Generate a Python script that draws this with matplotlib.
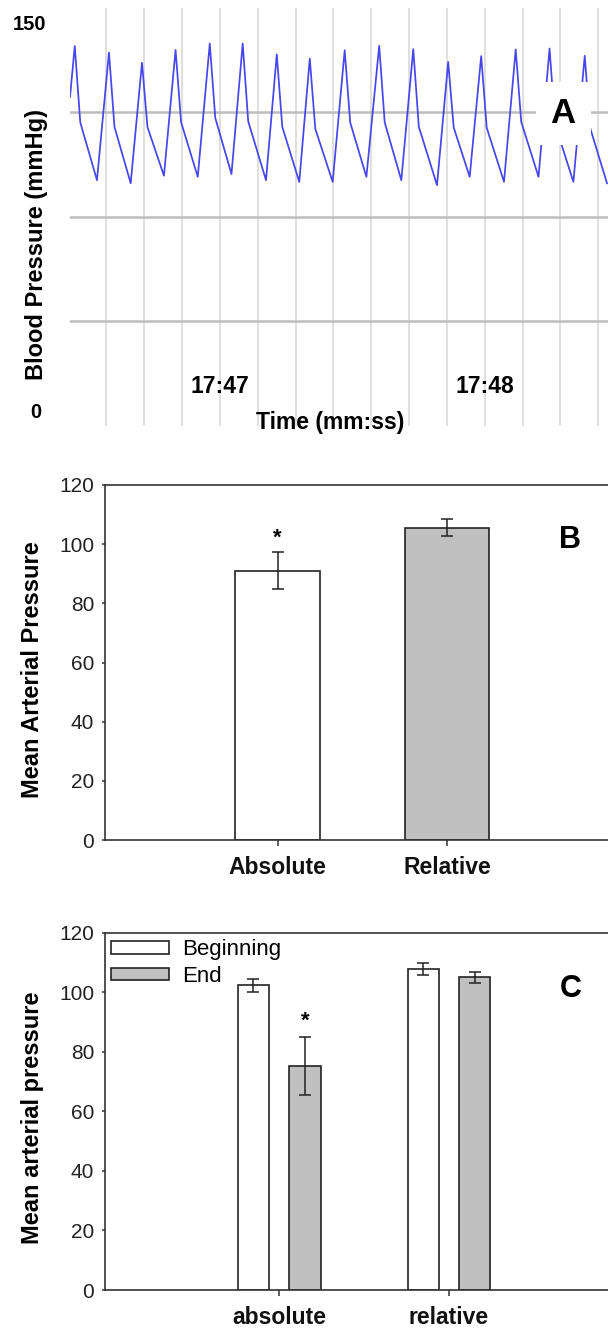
import numpy as np
import matplotlib.pyplot as plt

plt.rcParams['font.family'] = ['Liberation Sans', 'DejaVu Sans']

# ---- panel A: blood pressure trace (time in s from 17:47, pressure in mmHg)
trace_start = [-33.96, 117.9]
peak_t = [-32.88, -25.13, -17.65, -10.04, -2.29, 5.17, 12.89, 20.37,
          28.28, 36.10, 43.82, 51.73, 59.21, 67.03, 74.70, 82.67]
peak_v = [136.2, 133.9, 130.2, 134.8, 137.1, 137.1, 133.2, 131.7,
          134.7, 136.3, 135.1, 130.5, 132.6, 135.0, 135.3, 132.7]
notch_t = [-31.63, -23.88, -16.40, -8.79, -1.04, 6.42, 14.14, 21.62,
           29.53, 37.35, 45.07, 52.98, 60.46, 68.28, 75.95, 83.92]
notch_v = [108.8, 107.2, 107.1, 108.9, 110.4, 109.2, 107.2, 106.5,
           108.8, 108.8, 107.3, 107.0, 106.9, 109.0, 108.1, 106.7]
trough_t = [-27.85, -20.21, -12.67, -5.01, 2.63, 10.45, 17.99, 25.56,
            33.20, 41.11, 49.20, 56.60, 64.38, 72.20, 80.10, 87.72]
trough_v = [88.1, 87.0, 89.7, 89.3, 90.3, 88.1, 87.5, 87.5,
            89.3, 88.1, 86.3, 89.3, 87.5, 89.3, 87.5, 87.0]
time_labels = ['17:47', '17:48']
time_label_pos = [0, 60]

# ---- panel B: mean arterial pressure
cats_b = ['Absolute', 'Relative']
map_b = [91.0, 105.6]
err_b = [6.2, 3.0]

# ---- panel C: beginning vs end
cats_c = ['absolute', 'relative']
begin_c = [102.4, 107.7]
begin_err = [2.2, 2.0]
end_c = [75.2, 105.0]
end_err = [9.8, 1.8]

W, H = 608, 1332
fig = plt.figure(figsize=(W / 100, H / 100), dpi=100)


def px_axes(left, top, right, bottom):
    return fig.add_axes([left / W, 1 - bottom / H, (right - left) / W, (bottom - top) / H])


def px_text(x, y, s, **kw):
    fig.text(x / W, 1 - y / H, s, **kw)


# ================= A
axA = px_axes(70, 7.5, 620, 426)
t = np.column_stack([peak_t, notch_t, trough_t]).ravel()
v = np.column_stack([peak_v, notch_v, trough_v]).ravel()
t = np.concatenate([[trace_start[0]], t])
v = np.concatenate([[trace_start[1]], v])
axA.plot(t, v, color='#4646ee', lw=1.25, zorder=2)
axA.set_xlim(-33.96, 90.66)
axA.set_ylim(0, 150)

grid_t = np.arange(-3, 11) * 60 / 7
lbls = []
for g in grid_t:
    lab = ''
    for p, s in zip(time_label_pos, time_labels):
        if abs(g - p) < 1e-6:
            lab = s
    lbls.append(lab)
axA.set_xticks(grid_t, labels=lbls)
axA.set_yticks([37.5, 75, 112.5], labels=[])
axA.grid(axis='x', color='#dcdcdc', lw=1.3)
axA.grid(axis='y', color='#bdbdbd', lw=1.8)
axA.tick_params(axis='both', length=0)
axA.tick_params(axis='x', pad=-37, labelsize=16.5)
for lab in axA.get_xticklabels():
    lab.set_fontweight('bold')
for sp in axA.spines.values():
    sp.set_visible(False)
axA.text(77.75, 108.6, 'A', fontsize=25, fontweight='bold', ha='center', va='baseline',
         bbox=dict(boxstyle='square,pad=0.43', fc='white', ec='none'), zorder=5)

px_text(30, 25, '150', fontsize=14.5, fontweight='bold', ha='center', va='center')
px_text(36, 413, '0', fontsize=14.5, fontweight='bold', ha='center', va='center')
px_text(330, 411, 'Time (mm:ss)', fontsize=16.5, fontweight='bold', ha='center', va='top')
px_text(37, 245, 'Blood Pressure (mmHg)', fontsize=17, fontweight='bold',
        ha='center', va='center', rotation=90)

edge = '#222222'
grey = '#c0c0c0'


def style_bar_axes(ax):
    ax.set_ylim(0, 120)
    ax.set_yticks(np.arange(0, 121, 20))
    ax.spines['right'].set_visible(False)
    for sp in ['left', 'top', 'bottom']:
        ax.spines[sp].set_linewidth(1.2)
        ax.spines[sp].set_color('#333333')
    ax.tick_params(axis='y', direction='out', length=2.5, width=1.1, pad=5, labelsize=15,
                   colors='#333333', labelcolor='#222222')
    ax.tick_params(axis='x', direction='out', length=4.5, width=1.1, pad=7, labelsize=16.5,
                   colors='#333333', labelcolor='#111111')
    for lab in ax.get_xticklabels():
        lab.set_fontweight('bold')


# ================= B
axB = px_axes(104.7, 485, 104.7 + 511.9, 840)
xb = np.arange(len(cats_b))
axB.bar(xb, map_b, width=0.5, color=['white', grey], edgecolor=edge, linewidth=1.2,
        yerr=err_b, capsize=4.5, error_kw=dict(elinewidth=1.1, capthick=1.1, ecolor=edge))
axB.set_xlim(-1.02, 2.0)
axB.set_xticks(xb, labels=cats_b)
style_bar_axes(axB)
axB.text(0, 100.2, '*', fontsize=16, fontweight='bold', ha='center', va='baseline')
axB.text(1.725, 98.7, 'B', fontsize=22, fontweight='bold', ha='center', va='baseline')
px_text(33, 670, 'Mean Arterial Pressure', fontsize=17, fontweight='bold',
        ha='center', va='center', rotation=90)

# ================= C
axC = px_axes(104.7, 932.7, 104.7 + 514, 1290)
xc = np.arange(len(cats_c))
axC.bar(xc - 0.152, begin_c, width=0.183, color='white', edgecolor=edge, linewidth=1.2,
        yerr=begin_err, capsize=4.5, error_kw=dict(elinewidth=1.1, capthick=1.1, ecolor=edge),
        label='Beginning')
axC.bar(xc + 0.152, end_c, width=0.183, color=grey, edgecolor=edge, linewidth=1.2,
        yerr=end_err, capsize=4.5, error_kw=dict(elinewidth=1.1, capthick=1.1, ecolor=edge),
        label='End')
axC.set_xlim(-1.028, 2.0)
axC.set_xticks(xc, labels=cats_c)
style_bar_axes(axC)
axC.text(0.152, 88.3, '*', fontsize=16, fontweight='bold', ha='center', va='baseline')
axC.text(1.718, 98.4, 'C', fontsize=22, fontweight='bold', ha='center', va='baseline')
axC.legend(loc='upper left', bbox_to_anchor=(0, 1), frameon=False, fontsize=16,
           handlelength=2.6, handleheight=0.5, handletextpad=0.6, labelspacing=0.25,
           borderaxespad=0, borderpad=0.3)
px_text(33, 1118, 'Mean arterial pressure', fontsize=17, fontweight='bold',
        ha='center', va='center', rotation=90)

fig.savefig('out.png', dpi=100)
